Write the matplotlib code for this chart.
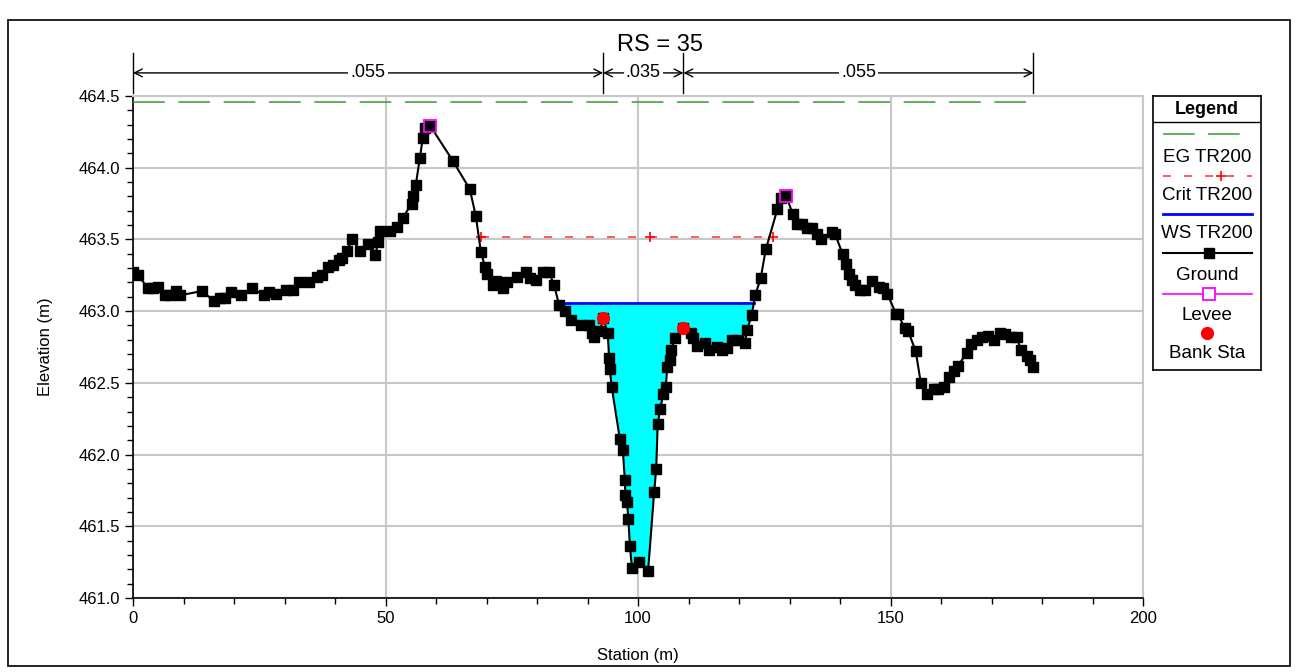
import numpy as np
import matplotlib
matplotlib.use('Agg')
import matplotlib.pyplot as plt
from matplotlib.patches import Rectangle

plt.rcParams['font.family'] = ['Liberation Sans', 'DejaVu Sans']

# ground profile (station m, elevation m)
station = [0.0, 1.0, 3.0, 4.0, 5.0, 6.3, 7.3, 8.6, 9.3, 13.6, 16.1, 17.2, 18.2, 19.4, 21.3, 23.5,
           26.0, 26.9, 28.4, 30.3, 31.6, 32.9, 34.9, 36.5, 37.4, 38.7, 39.7, 40.7, 41.3, 42.3, 43.4,
           45.0, 46.6, 47.9, 48.6, 48.9, 50.8, 52.2, 53.4, 55.2, 55.5, 56.0, 56.8, 57.4, 57.8, 58.9,
           63.3, 66.7, 67.9, 68.9, 69.7, 70.0, 71.2, 71.9, 73.3, 74.1, 76.0, 77.8, 78.6, 79.8, 81.2,
           82.4, 83.4, 84.4, 85.5, 86.7, 88.8, 90.2, 90.8, 91.2, 92.5, 93.1, 94.0, 94.3, 94.4, 94.8,
           96.4, 97.0, 97.4, 97.5, 97.8, 98.1, 98.4, 98.8, 100.1, 102.0, 103.2, 103.6, 103.9, 104.4,
           105.0, 105.5, 105.8, 106.3, 106.6, 107.3, 109.0, 110.5, 110.9, 111.7, 113.3, 114.1, 115.7,
           116.6, 117.6, 118.6, 119.9, 121.2, 121.6, 122.5, 123.2, 124.3, 125.3, 127.6, 128.3, 129.4,
           130.6, 131.5, 132.4, 133.4, 134.4, 135.4, 136.3, 138.4, 139.0, 140.5, 141.2, 141.7, 142.3,
           143.0, 144.0, 145.0, 146.4, 147.8, 148.6, 149.4, 151.1, 151.5, 152.8, 153.5, 155.0, 156.0,
           157.2, 158.6, 159.5, 160.5, 161.5, 162.5, 163.4, 165.1, 165.9, 167.1, 168.2, 169.4, 170.4,
           171.7, 172.7, 173.8, 175.0, 175.8, 177.0, 177.6, 178.3]
elev = [463.27, 463.25, 463.16, 463.16, 463.17, 463.11, 463.11, 463.14, 463.11, 463.14, 463.07,
        463.09, 463.09, 463.13, 463.11, 463.16, 463.11, 463.13, 463.12, 463.15, 463.15, 463.20,
        463.20, 463.24, 463.25, 463.31, 463.32, 463.36, 463.37, 463.42, 463.50, 463.42, 463.47,
        463.39, 463.48, 463.56, 463.56, 463.59, 463.65, 463.75, 463.80, 463.88, 464.07, 464.21,
        464.28, 464.29, 464.05, 463.85, 463.66, 463.41, 463.31, 463.26, 463.18, 463.21, 463.16,
        463.20, 463.24, 463.27, 463.23, 463.22, 463.27, 463.27, 463.18, 463.04, 463.00, 462.94,
        462.90, 462.90, 462.85, 462.82, 462.86, 462.95, 462.85, 462.67, 462.60, 462.47, 462.11,
        462.03, 461.82, 461.72, 461.67, 461.55, 461.36, 461.21, 461.25, 461.19, 461.74, 461.90,
        462.21, 462.32, 462.42, 462.47, 462.61, 462.66, 462.73, 462.81, 462.88, 462.85, 462.81,
        462.76, 462.78, 462.73, 462.75, 462.73, 462.74, 462.80, 462.80, 462.78, 462.87, 462.97,
        463.11, 463.23, 463.43, 463.71, 463.79, 463.80, 463.68, 463.61, 463.61, 463.58, 463.58,
        463.54, 463.50, 463.55, 463.54, 463.40, 463.33, 463.26, 463.22, 463.18, 463.15, 463.15,
        463.21, 463.17, 463.16, 463.12, 462.98, 462.98, 462.88, 462.86, 462.72, 462.50, 462.42,
        462.46, 462.46, 462.47, 462.54, 462.58, 462.62, 462.71, 462.77, 462.80, 462.82, 462.83,
        462.80, 462.85, 462.84, 462.82, 462.82, 462.73, 462.69, 462.66, 462.61]

levee_sta = [58.9, 129.4]
levee_elev = [464.29, 463.80]
bank_sta = [93.1, 109.0]
bank_elev = [462.95, 462.88]

ws_elev = 463.06
ws_sta = [84.3, 122.9]
crit_elev = 463.52
crit_sta = [68.9, 102.4, 126.7]
eg_elev = 464.46
eg_sta = [0.0, 178.3]

n_breaks = [0.0, 93.1, 109.0, 178.3]
n_labels = ['.055', '.035', '.055']

W, H = 1296, 672
fig = plt.figure(figsize=(W / 100, H / 100), dpi=100)
ax = fig.add_axes([133 / W, 1 - 598 / H, 1010 / W, 502 / H])

st = np.array(station)
el = np.array(elev)

# water in main channel
mask = (st >= ws_sta[0] - 1) & (st <= ws_sta[1] + 1)
ax.fill_between(st, el, ws_elev, where=mask & (el <= ws_elev), interpolate=True,
                color='#00ffff', lw=0, zorder=2)
ax.plot(ws_sta, [ws_elev] * 2, color='#0000ff', lw=2, zorder=3)
ax.plot(eg_sta, [eg_elev] * 2, color='#4aa04a', lw=1.2, ls=(0, (19, 8.2)), zorder=3)
ax.plot(crit_sta, [crit_elev] * 3, color='#ff4040', lw=1.2, ls=(0, (4.8, 7.8)),
        marker='+', ms=7, mew=1.2, mec='red', zorder=3)
ax.plot(st, el, color='black', lw=1.5, marker='s', ms=6.5, zorder=4)
ax.plot(levee_sta, levee_elev, ls='none', marker='s', ms=9, mfc='none', mec='#ff00ff',
        mew=1.3, zorder=5)
ax.plot(bank_sta, bank_elev, ls='none', marker='o', ms=8.5, color='red', zorder=6)

ax.set_xlim(0, 200)
ax.set_ylim(461.0, 464.5)
ax.set_xticks([0, 50, 100, 150, 200])
ax.set_xticks(np.arange(0, 201, 10), minor=True)
ax.set_yticks(np.arange(461.0, 464.51, 0.5))
ax.set_yticks(np.arange(461.0, 464.51, 0.1), minor=True)
ax.set_yticklabels(['%.1f' % v for v in np.arange(461.0, 464.51, 0.5)])
ax.tick_params(labelsize=12, length=6, width=1, direction='out')
ax.tick_params(which='minor', length=4, width=1)
ax.grid(True, which='major', color='#c8c8c8', lw=1.5, zorder=0)
ax.set_axisbelow(True)
for s in ['top', 'right']:
    ax.spines[s].set_color('#c8c8c8')
    ax.spines[s].set_linewidth(1.5)
ax.spines['left'].set_linewidth(1.2)
ax.spines['bottom'].set_linewidth(1.2)
ax.set_xlabel('Station (m)', fontsize=12, labelpad=16)
ax.set_ylabel('Elevation (m)', fontsize=12, labelpad=18)

# Manning's n bar
tr = ax.get_xaxis_transform()
for b in n_breaks:
    ax.plot([b, b], [1.006, 1.086], color='black', lw=1, transform=tr, clip_on=False)
for i, lab in enumerate(n_labels):
    x0, x1 = n_breaks[i], n_breaks[i + 1]
    ax.annotate('', xy=(x0, 1.046), xytext=(x1, 1.046), xycoords=tr, textcoords=tr,
                arrowprops=dict(arrowstyle='<->', lw=1, color='black', shrinkA=0, shrinkB=0,
                                mutation_scale=14))
    ax.text((x0 + x1) / 2, 1.046, lab, transform=tr, ha='center', va='center', fontsize=13,
            bbox=dict(fc='white', ec='none', pad=1.5))
fig.text(660 / W, 1 - 45 / H, 'RS = 35', ha='center', va='center', fontsize=17)

# legend box
lg = fig.add_axes([1153 / W, 1 - 370 / H, 108 / W, 274 / H])
lg.set_xlim(0, 108)
lg.set_ylim(274, 0)
lg.set_xticks([])
lg.set_yticks([])
for s in lg.spines.values():
    s.set_linewidth(1.2)
fs = 13.5
lg.text(54, 13, 'Legend', ha='center', va='center', fontsize=13, fontweight='bold')
lg.plot([0, 108], [26, 26], color='black', lw=1)
lx = [10, 99]
lg.plot(lx, [38, 38], color='#4aa04a', lw=1.2, ls=(0, (19, 8)))
lg.text(54, 61, 'EG TR200', ha='center', va='center', fontsize=fs)
lg.plot(lx, [80, 80], color='#ff4040', lw=1.2, ls=(0, (4.8, 7.8)))
lg.plot([68], [80], marker='+', ms=7, mew=1.2, color='red')
lg.text(54, 100, 'Crit TR200', ha='center', va='center', fontsize=fs)
lg.plot(lx, [118, 118], color='#0000ff', lw=2)
lg.text(54, 138, 'WS TR200', ha='center', va='center', fontsize=fs)
lg.plot(lx, [157, 157], color='black', lw=1.5)
lg.plot([56], [157], marker='s', ms=6.5, color='black')
lg.text(54, 179, 'Ground', ha='center', va='center', fontsize=fs)
lg.plot(lx, [198, 198], color='#ff00ff', lw=1.2)
lg.plot([56], [198], marker='s', ms=9, mfc='white', mec='#ff00ff', mew=1.3)
lg.text(54, 219, 'Levee', ha='center', va='center', fontsize=fs)
lg.plot([54], [237], marker='o', ms=8.5, color='red')
lg.text(54, 257, 'Bank Sta', ha='center', va='center', fontsize=fs)

# outer frame
fig.patches.append(Rectangle((8 / W, 6 / H), 1282 / W, 646 / H, transform=fig.transFigure,
                             fill=False, ec='black', lw=1.2))

fig.savefig('out.png', dpi=100)
